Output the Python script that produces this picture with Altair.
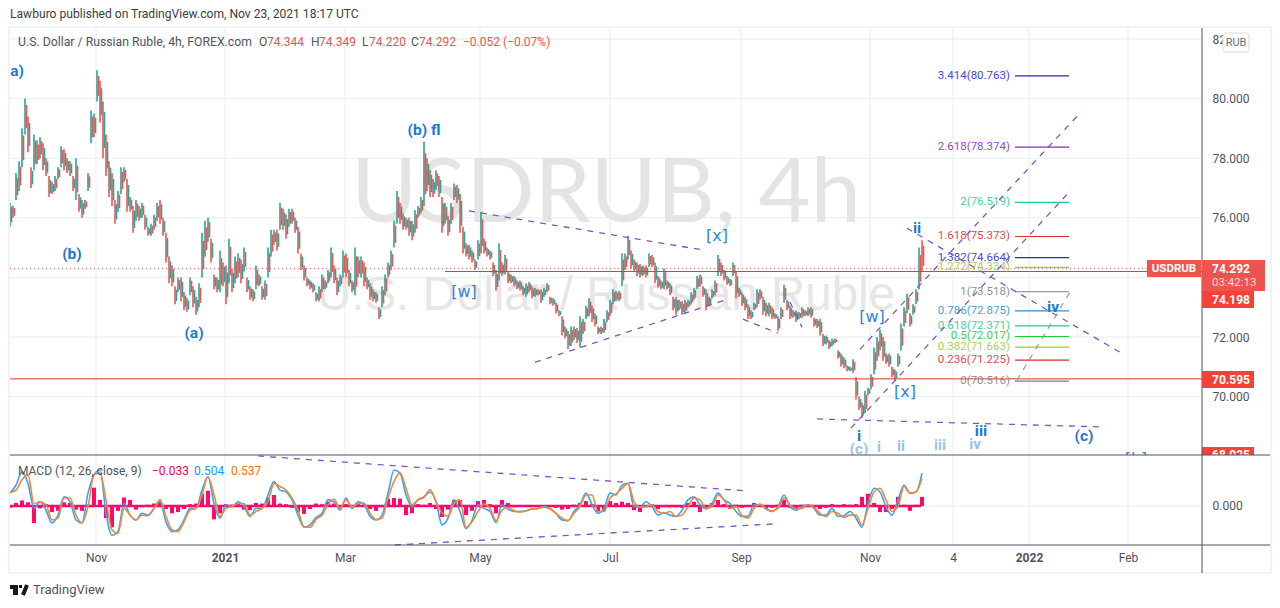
import json
import altair as alt
import pandas as pd

# ---- price series, one entry every 6 four-hour bars -------------------------
highs = [76.5,76.4,77.5,77.9,79.0,80.0,79.4,77.7,78.8,78.6,78.7,78.5,78.0,77.4,77.2,77.4,77.7,78.4,78.3,78.0,77.9,77.4,78.0,76.8,76.6,76.6,77.5,79.6,79.5,80.95,
80.6,79.9,78.8,77.9,77.5,76.6,76.9,77.7,77.7,77.3,76.7,76.4,76.6,76.4,76.5,76.1,75.7,75.8,76.1,76.5,76.6,76.0,75.5,74.7,74.4,73.7,74.0,74.0,73.5,73.3,
74.0,73.7,73.35,73.8,75.5,75.9,76.0,75.3,74.1,74.0,74.9,74.5,74.4,75.3,74.3,74.7,74.8,74.6,75.0,74.0,73.7,73.6,74.4,74.1,73.7,73.9,75.0,75.6,75.6,75.6,
76.5,76.3,76.1,76.3,76.3,76.0,75.7,74.8,74.4,74.0,73.9,73.8,73.5,73.7,74.1,73.9,74.25,75.0,74.4,74.0,74.1,74.9,74.8,74.25,73.9,75.0,74.7,74.7,74.5,74.0,
73.8,73.6,73.5,73.0,73.7,74.1,74.5,74.9,75.9,76.9,76.5,76.15,76.0,76.0,75.9,76.25,76.4,76.7,78.55,78.0,
77.6,77.3,77.6,77.4,76.7,76.5,76.05,76.5,77.15,77.1,76.8,75.7,75.15,75.1,74.9,74.6,75.25,76.2,75.3,75.0,74.9,74.5,74.25,75.15,74.5,74.75,74.2,74.1,74.05,73.9,
73.9,73.7,73.8,73.85,73.7,73.65,73.6,73.6,73.65,73.8,73.35,73.3,73.15,72.9,72.7,72.35,72.2,72.35,72.35,72.3,72.7,72.6,73.05,73.3,73.05,72.8,72.35,72.35,72.6,72.9,
73.25,73.6,73.55,73.55,74.8,74.8,75.4,74.9,74.6,74.5,74.45,74.4,74.4,74.8,74.75,74.5,74.05,73.9,74.3,73.9,73.8,73.35,73.35,73.25,73.2,73.25,73.25,73.5,73.65,74.05,
74.1,73.7,73.6,73.35,73.6,73.9,74.75,74.5,74.25,74.05,73.95,74.5,74.2,73.65,73.5,73.35,73.1,72.9,73.15,73.6,73.6,73.35,73.15,73.15,73.0,72.8,72.7,73.0,73.75,73.25,
73.05,72.9,72.9,72.85,73.0,72.9,73.0,73.0,72.65,72.6,72.6,72.1,72.05,71.9,
71.95,71.95,71.55,71.45,71.3,71.05,71.0,71.25,70.65,70.0,69.8,70.2,70.3,70.75,71.65,72.0,72.25,72.0,71.45,71.45,71.0,70.9,71.45,72.45,73.0,73.45,72.8,73.1,73.6,75.0,75.25]
lows = [75.7,76.0,76.6,76.9,77.7,78.8,78.2,77.0,77.6,77.8,78.0,77.6,77.4,76.7,76.8,76.9,77.3,77.7,77.6,77.5,77.4,76.9,76.6,76.2,76.0,76.3,76.9,78.5,78.7,79.9,
79.2,78.0,77.4,76.7,76.4,75.8,76.2,76.8,77.2,76.2,76.2,75.5,75.9,75.9,76.0,75.6,75.4,75.4,75.6,75.9,75.8,75.4,74.5,73.8,73.7,73.1,73.5,73.2,72.9,72.85,
73.4,73.0,72.75,73.0,74.0,74.7,75.2,74.5,73.6,73.5,73.5,73.7,73.1,73.8,73.5,73.8,74.0,73.8,74.2,73.5,73.25,73.2,73.6,73.7,73.25,73.25,74.0,74.7,75.1,74.9,
75.6,75.6,75.3,75.7,75.8,75.5,74.8,74.25,73.9,73.7,73.6,73.5,73.2,73.2,73.5,73.6,73.8,74.0,73.8,73.4,73.7,74.0,74.0,73.7,73.5,73.4,74.0,74.0,73.7,73.6,
73.25,73.2,73.15,72.6,73.0,73.4,74.0,74.25,75.0,75.8,75.8,75.6,75.6,75.4,75.25,75.5,76.0,76.15,76.4,76.9,
76.7,76.7,76.95,76.7,75.5,75.8,75.4,75.8,76.6,76.5,75.5,74.8,74.7,74.6,74.5,74.25,74.6,74.8,74.8,74.7,74.6,74.05,73.55,73.9,74.05,74.1,73.8,73.8,73.7,73.6,
73.55,73.4,73.35,73.5,73.3,73.35,73.4,73.15,73.35,73.5,73.1,73.05,72.8,72.7,72.05,71.95,71.6,71.7,71.9,71.8,71.65,72.1,72.6,72.7,72.5,72.35,72.1,72.1,72.15,72.5,
72.7,73.1,73.2,73.2,73.7,74.25,74.6,74.3,74.2,74.05,74.0,74.05,74.0,74.35,74.35,73.8,73.65,73.6,73.6,73.6,73.4,72.9,72.75,72.9,72.75,72.8,73.0,73.1,73.25,73.6,
73.7,73.35,72.9,73.05,73.3,73.4,74.05,74.05,73.9,73.75,73.7,74.05,73.3,73.35,73.05,72.9,72.6,72.6,72.9,73.0,73.25,72.75,72.7,72.7,72.6,72.6,72.2,72.6,73.15,72.9,
72.6,72.65,72.5,72.6,72.65,72.7,72.7,72.65,72.35,72.3,72.05,71.7,71.75,71.6,
71.7,71.8,71.28,71.0,70.95,70.85,70.85,70.8,69.9,69.55,69.3,69.45,70.05,70.25,70.75,71.2,71.55,71.2,71.1,71.0,70.65,70.55,71.0,71.55,72.35,72.8,72.35,72.75,73.1,73.6,74.2]

# ---- MACD, one entry every 12 four-hour bars --------------------------------
macd_line = [.21,.34,.56,.37,-.04,.07,-.07,-.28,-.15,.15,.07,-.23,-.28,.21,.51,.59,-.12,-.48,-.42,.04,-.15,-.23,-.12,-.15,-.04,.07,-.26,-.42,-.39,-.23,
-.04,-.04,.26,.48,.04,-.20,.02,-.01,.07,-.01,-.17,-.04,-.04,.18,.40,.26,.23,.10,-.15,-.35,-.31,-.19,-.12,.10,.07,-.07,.13,-.04,.07,.02,
-.17,-.23,-.15,.21,.59,.54,.18,-.01,.10,.15,
.23,.07,-.31,-.20,.10,-.09,-.37,-.24,.02,-.04,-.09,-.27,.02,-.05,-.09,-.09,-.08,-.05,-.04,-.01,-.04,-.12,-.23,-.24,-.09,.02,.21,.02,-.12,-.04,
.21,.18,.34,.37,-.01,-.02,.07,-.01,-.15,-.11,-.15,-.17,
-.07,.10,.15,.02,-.05,.04,.21,.10,.04,-.09,-.17,-.17,.02,.02,-.05,-.09,-.01,.18,-.01,-.07,-.01,.02,-.04,-.15,-.15,-.04,-.17,-.16,-.09,-.20,
-.35,.04,.29,.23,-.01,-.15,.10,.34,.21,.23,.54]
signal_line = [.22,.26,.43,.51,.04,.07,.02,-.23,-.20,.13,.13,-.15,-.28,-.01,.51,.54,.10,-.39,-.45,-.04,-.15,-.23,-.15,-.16,-.04,.10,-.17,-.39,-.42,-.26,
-.07,-.04,.18,.48,.18,-.17,-.04,-.01,.04,.04,-.15,-.09,-.04,.07,.37,.32,.26,.13,-.07,-.34,-.35,-.22,-.15,.02,.11,-.04,.10,-.01,.04,.05,
-.12,-.22,-.20,.13,.40,.54,.29,.02,.10,.14,
.27,.07,-.12,-.17,.04,.10,-.35,-.26,-.09,.03,-.04,-.24,-.07,-.02,-.08,-.10,-.08,-.05,-.04,-.02,-.05,-.12,-.20,-.24,-.12,-.01,.18,.18,-.09,-.09,
.13,.20,.29,.37,.07,-.02,-.01,.02,-.09,-.12,-.09,-.17,
-.15,-.01,.13,.10,-.04,-.01,.18,.10,-.04,-.01,-.16,-.20,-.04,.03,-.04,-.08,-.04,.13,.02,-.05,-.04,.02,-.02,-.12,-.17,-.09,-.12,-.19,-.15,-.15,
-.31,-.04,.23,.29,.10,-.09,-.01,.32,.21,.23,.45]
histogram = [-.03,.05,.09,.06,-.28,-.04,.03,-.1,-.08,.06,.05,-.06,-.08,.02,.3,.1,-.2,-.35,-.08,.14,.1,-.06,-.02,.02,.04,.07,-.05,-.12,-.1,-.05,
.03,.04,.2,.25,-.22,-.12,.03,.02,.05,-.06,-.07,.05,.04,.14,.18,.04,.03,-.03,-.1,-.13,-.05,.04,.03,.07,.04,-.03,.03,-.02,.03,.02,-.05,-.08,-.02,.12,.13,.12,-.15,-.12,.03,.02,
.05,-.05,-.18,-.06,.1,.1,-.15,-.08,.08,.1,.03,-.12,.1,.05,-.02,-.01,.01,.01,.01,.01,-.01,-.03,-.06,-.05,.02,.05,.08,.03,-.1,-.08,.08,.05,.07,.05,-.07,-.1,-.02,.03,-.05,-.02,-.02,-.02,
-.03,.05,.07,-.1,-.03,.05,.1,.03,-.05,.02,-.03,-.01,.05,.03,-.05,-.03,.02,.1,-.03,-.05,.02,.02,-.03,-.05,-.03,.03,-.02,.03,.02,.03,.15,.2,.05,-.1,-.1,-.05,.15,.02,-.08,.02,.15]

# ---- axes and studies -------------------------------------------------------
time_ticks = [172,430,670,940,1200,1462,1720,1886,2038,2236]
time_labels = ["Nov","2021","Mar","May","Jul","Sep","Nov","4","2022","Feb"]
price_ticks = [70,72,74,76,78,80,82]
fib_ratio = ["3.414","2.618","2","1.618","1.382","1.272","1","0.786","0.618","0.5","0.382","0.236","0"]
fib_price = [80.763,78.374,76.519,75.373,74.664,74.334,73.518,72.875,72.371,72.017,71.663,71.225,70.516]
fib_color = ["#2a26d0","#8e24c8","#22c98f","#d32f2f","#2a2ac0","#9ccc35","#808080","#2e8fc8","#22c98f","#1ecb2e","#9acd32","#d32f2f","#808080"]
wave_text = ["a)","(b)","(a)","(b) fl","ii","i","iii","iv","(c)"]
wave_bar = [14,124,368,828,1814,1698,1942,2086,2148]
wave_price = [80.92,74.78,72.13,78.94,75.65,68.67,68.84,73.00,68.67]
bracket_text = ["[w]","[x]","[w]","[x]","[b]"]
bracket_bar = [908,1414,1724,1790,2252]
bracket_price = [73.51,75.39,72.67,70.15,67.9]
faint_text = ["(c)","i","ii","iii","iv"]
faint_bar = [1698,1738,1782,1860,1930]
faint_price = [68.24,68.31,68.34,68.37,68.41]
trend_bar = [[918,1386],[1050,1436],[1466,1536],[1560,1584],[1682,2122],[1700,2142],[1794,2220],[1614,2190]]
trend_price = [[76.23,74.92],[71.15,73.27],[72.6,72.13],[73.17,72.33],[68.94,76.93],[71.59,79.55],[75.65,71.49],[69.25,68.98]]
macd_trend_bar = [[496,1476],[770,1526]]
macd_trend_val = [[.82,.246],[-.64,-.295]]

W, H = 1264, 592
xs = alt.Scale(domain=[0,2384], range=[2,1194])
ps = alt.Scale(domain=[68.04,82.37], range=[447,20], nice=False, zero=False)
ms = alt.Scale(domain=[-.64,.836], range=[537,447], nice=False, zero=False)
one = pd.DataFrame({"a":[1]})
FONT = "Roboto"

def X(f="bar", **k): return alt.X(f"{f}:Q", scale=xs, axis=k.get("axis"), title=None)
def PY(f="p", **k): return alt.Y(f"{f}:Q", scale=ps, axis=k.get("axis"), title=None)
def MY(f="m", **k): return alt.Y(f"{f}:Q", scale=ms, axis=k.get("axis"), title=None)

def txt(t, x, y, color="#50535e", size=12, weight="normal", align="left", opacity=1.0, font=FONT):
    return alt.Chart(one).mark_text(text=t, color=color, fontSize=size, fontWeight=weight, align=align,
                                    baseline="middle", opacity=opacity, font=font).encode(x=alt.value(x-8), y=alt.value(y-8))
def box(x1, x2, y1, y2, color, **k):
    return alt.Chart(one).mark_rect(color=color, **k).encode(x=alt.value(x1-8), x2=alt.value(x2-8), y=alt.value(y1-8), y2=alt.value(y2-8))
def seg(x1, y1, x2, y2, color, w=1, **k):
    return alt.Chart(one).mark_rule(color=color, strokeWidth=w, **k).encode(x=alt.value(x1-8), x2=alt.value(x2-8), y=alt.value(y1-8), y2=alt.value(y2-8))

layers = []
# grid
layers.append(alt.Chart(pd.DataFrame({"bar":time_ticks})).mark_rule(color="#e6edf3", strokeWidth=1)
              .encode(x=X(), y=alt.value(20), y2=alt.value(537)))
layers.append(alt.Chart(pd.DataFrame({"p":price_ticks})).mark_rule(color="#e6edf3", strokeWidth=1)
              .encode(y=PY(), x=alt.value(2), x2=alt.value(1194)))
# watermark
layers.append(txt("USDRUB, 4h", 606, 195, "#e4e4e4", 90, font="Lato", align="center"))
layers.append(txt("U.S. Dollar / Russian Ruble", 606, 296, "#e6e6e6", 47.5, font="Liberation Sans", align="center"))

# candles: every group of bars is drawn as two thin strokes, the later one in the opposite colour over the inner part of the range
UP, DOWN = "#26a69a", "#ef5350"
mids = [(a+b)/2 for a,b in zip(highs,lows)]
first = [UP if i == 0 or mids[i] >= mids[i-1] else DOWN for i in range(len(mids))]
first[-1] = DOWN
second = [DOWN if c == UP else UP for c in first]
second[-1] = DOWN
cdf = pd.DataFrame({"bar":[6*i for i in range(len(highs))], "hi":highs, "lo":lows, "col":first})
cdf2 = pd.DataFrame({"bar":[6*i+3 for i in range(len(highs))],
                     "hi":[h-(h-l)*.18 for h,l in zip(highs,lows)], "lo":[l+(h-l)*.18 for h,l in zip(highs,lows)], "col":second})
for d in (cdf, cdf2):
    layers.append(alt.Chart(d).mark_rule(strokeWidth=1.6).encode(
        x=X(), y=PY("lo"), y2=alt.Y2("hi:Q"), color=alt.Color("col:N", scale=None, legend=None)))

# horizontal levels
layers.append(alt.Chart(pd.DataFrame({"p":[74.292],"bar":[0],"b2":[2384]})).mark_rule(color="#ef5350", strokeWidth=1, strokeDash=[1,3])
              .encode(x=X(), x2=alt.X2("b2:Q"), y=PY()))
layers.append(alt.Chart(pd.DataFrame({"p":[74.198],"bar":[870],"b2":[2384]})).mark_rule(color="#e53935", strokeWidth=1)
              .encode(x=X(), x2=alt.X2("b2:Q"), y=PY()))
layers.append(alt.Chart(pd.DataFrame({"p":[70.595],"bar":[0],"b2":[2384]})).mark_rule(color="#d8362c", strokeWidth=1)
              .encode(x=X(), x2=alt.X2("b2:Q"), y=PY()))

# fibonacci levels
fdf = pd.DataFrame({"p":fib_price,"bar":[2010]*13,"b2":[2118]*13,"col":fib_color,"tbar":[2000]*13,
                    "lab":[f"{r}({v:.3f})" for r,v in zip(fib_ratio,fib_price)]})
layers.append(alt.Chart(fdf).mark_rule(strokeWidth=1.2).encode(
    x=X(), x2=alt.X2("b2:Q"), y=PY(), color=alt.Color("col:N", scale=None, legend=None)))
layers.append(alt.Chart(fdf).mark_text(align="right", baseline="middle", fontSize=11.5, font=FONT, opacity=.85).encode(
    x=X("tbar"), y=PY(), text="lab:N", color=alt.Color("col:N", scale=None, legend=None)))

# trend lines
for bs, ps_ in zip(trend_bar, trend_price):
    layers.append(alt.Chart(pd.DataFrame({"bar":[bs[0]],"b2":[bs[1]],"p":[ps_[0]],"p2":[ps_[1]]}))
                  .mark_rule(color="#7e57c2", strokeWidth=1.3, strokeDash=[6,6])
                  .encode(x=X(), x2=alt.X2("b2:Q"), y=PY(), y2=alt.Y2("p2:Q")))
layers.append(alt.Chart(pd.DataFrame({"bar":[2014],"b2":[2120],"p":[70.55],"p2":[73.51]}))
              .mark_rule(color="#9a9a9a", strokeWidth=1.2, strokeDash=[6,6])
              .encode(x=X(), x2=alt.X2("b2:Q"), y=PY(), y2=alt.Y2("p2:Q")))

# wave labels
wdf = pd.DataFrame({"t":wave_text,"bar":wave_bar,"p":wave_price})
layers.append(alt.Chart(wdf).mark_text(fontSize=15.5, fontWeight="bold", color="#1f78d1", font=FONT, baseline="middle")
              .encode(x=X(), y=PY(), text="t:N"))
bdf = pd.DataFrame({"t":bracket_text,"bar":bracket_bar,"p":bracket_price})
layers.append(alt.Chart(bdf).mark_text(fontSize=16, color="#2f86d6", font="DejaVu Sans", baseline="middle")
              .encode(x=X(), y=PY(), text="t:N"))
gdf = pd.DataFrame({"t":faint_text,"bar":faint_bar,"p":faint_price})
layers.append(alt.Chart(gdf).mark_text(fontSize=15, fontWeight="bold", color="#96c3ec", font=FONT, baseline="middle")
              .encode(x=X(), y=PY(), text="t:N"))

# last-price tag that gets cut by the lower pane
layers.append(box(1202,1254,447,460,"#f44336"))
layers.append(txt("68.025",1212,455,"#ffffff",12,"bold"))

# lower pane background
layers.append(box(10,1270,455,545,"#ffffff"))
layers.append(box(1202,1270,546,573,"#ffffff"))
layers.append(alt.Chart(pd.DataFrame({"bar":time_ticks})).mark_rule(color="#e6edf3", strokeWidth=1)
              .encode(x=X(), y=alt.value(447), y2=alt.value(537)))
layers.append(alt.Chart(pd.DataFrame({"m":[0]})).mark_rule(color="#e6edf3", strokeWidth=1)
              .encode(y=MY(), x=alt.value(2), x2=alt.value(1194)))

# MACD
mdf = pd.DataFrame({"bar":[12*i for i in range(len(macd_line))], "m":macd_line, "s":signal_line,
                    "z":[0]*len(macd_line), "h":histogram})
layers.append(alt.Chart(pd.DataFrame({"bar":[0],"b2":[1822],"m":[-.02],"m2":[.02]})).mark_rect(color="#ff0a6c")
              .encode(x=X(), x2=alt.X2("b2:Q"), y=MY(), y2=alt.Y2("m2:Q")))
layers.append(alt.Chart(mdf).mark_rule(color="#ff0a6c", strokeWidth=4).encode(x=X(), y=MY("z"), y2=alt.Y2("h:Q")))
layers.append(alt.Chart(mdf).mark_line(color="#3ba3f0", strokeWidth=1.6, interpolate="monotone").encode(x=X(), y=MY("m")))
layers.append(alt.Chart(mdf).mark_line(color="#f0893a", strokeWidth=1.6, interpolate="monotone").encode(x=X(), y=MY("s")))
for bs, vs in zip(macd_trend_bar, macd_trend_val):
    layers.append(alt.Chart(pd.DataFrame({"bar":[bs[0]],"b2":[bs[1]],"m":[vs[0]],"m2":[vs[1]]}))
                  .mark_rule(color="#7e57c2", strokeWidth=1.3, strokeDash=[6,6])
                  .encode(x=X(), x2=alt.X2("b2:Q"), y=MY(), y2=alt.Y2("m2:Q")))

# frame
layers.append(box(9,1271,27,573,"#ffffff",fillOpacity=0,stroke="#eff2f6",strokeWidth=2))
layers.append(seg(10,455,1270,455,"#50535e"))
layers.append(seg(10,545,1270,545,"#50535e"))
layers.append(seg(1202,28,1202,573,"#50535e"))

# axes
label_expr = json.dumps({str(k):v for k,v in zip(time_ticks,time_labels)}) + "[datum.value]"
x_axis = alt.Axis(orient="bottom", offset=-55, values=time_ticks, labelExpr=label_expr, domain=False, ticks=False, grid=False,
                  labelFontSize=12, labelColor="#50535e", labelFont=FONT, labelPadding=7, title=None, zindex=1,
                  labelFlush=False, labelOverlap=False,
                  labelFontWeight={"condition":{"test":"datum.value==430||datum.value==2038","value":"bold"},"value":"normal"})
layers.append(alt.Chart(pd.DataFrame({"bar":time_ticks})).mark_point(opacity=0).encode(x=X(axis=x_axis)))
y_axis = alt.Axis(orient="right", offset=-70, values=price_ticks, format=".3f", domain=False, ticks=False, grid=False, zindex=0,
                  labelFontSize=12, labelColor="#50535e", labelFont=FONT, labelPadding=10, title=None, labelFlush=False, labelOverlap=False)
layers.append(alt.Chart(pd.DataFrame({"p":price_ticks})).mark_point(opacity=0).encode(y=PY(axis=y_axis)))
m_axis = alt.Axis(orient="right", offset=-70, values=[0], format=".3f", domain=False, ticks=False, grid=False, zindex=1,
                  labelFontSize=12, labelColor="#50535e", labelFont=FONT, labelPadding=10, title=None, labelFlush=False)
layers.append(alt.Chart(pd.DataFrame({"m":[0]})).mark_point(opacity=0).encode(y=MY(axis=m_axis)))

# price tags
layers.append(box(1147,1201,260,277,"#ef5350"))
layers.append(txt("USDRUB",1174,269,"#ffffff",11.5,"bold",align="center"))
layers.append(box(1202,1265,260,291,"#ef5350"))
layers.append(txt("74.292",1212,269,"#ffffff",12,"bold"))
layers.append(txt("03:42:13",1212,283,"#ffd5d3",11.5))
layers.append(box(1202,1254,291,308,"#f44336"))
layers.append(txt("74.198",1212,300,"#ffffff",12,"bold"))
layers.append(box(1202,1254,371,388,"#f44336"))
layers.append(txt("70.595",1212,380,"#ffffff",12,"bold"))
layers.append(box(1223,1249,33,52,"#ffffff",stroke="#d6d8de",strokeWidth=1,cornerRadius=3))
layers.append(txt("RUB",1236,43,"#6a6d78",11,align="center"))

# header and legends
layers.append(txt("Lawburo published on TradingView.com, Nov 23, 2021 18:17 UTC",10,14,"#3c3c3c",12.1))
layers.append(txt("U.S. Dollar / Russian Ruble, 4h, FOREX.com",18,42,"#50535e",12.25))
for lab, x1, val, x2 in [("O",259,"74.344",267),("H",311,"74.349",319),("L",362,"74.220",369),("C",411,"74.292",419)]:
    layers.append(txt(lab,x1,42,"#50535e",12))
    layers.append(txt(val,x2,42,"#ef5350",12))
layers.append(txt("−0.052 (−0.07%)",463,42,"#ef5350",12))
layers.append(txt("MACD (12, 26, close, 9)",18,471,"#50535e",12))
layers.append(txt("−0.033",152,471,"#f50057",12))
layers.append(txt("0.504",194,471,"#2196f3",12))
layers.append(txt("0.537",231,471,"#ff6d00",12))

# footer
layers.append(box(10,18,585,589,"#131722"))
layers.append(box(13,18,589,595,"#131722"))
layers.append(box(19,22,585,588,"#131722"))
layers.append(seg(27,585,23,595,"#131722",4))
layers.append(txt("TradingView",33,590,"#50535e",13))

chart = alt.layer(*layers).resolve_scale(y="independent").resolve_axis(x="independent", y="independent").properties(
    width=W, height=H, padding=0, autosize=alt.AutoSizeParams(type="none"), background="#ffffff"
).configure_view(stroke=None)

chart.save("out.html", embed_options={"renderer":"svg","actions":False})
